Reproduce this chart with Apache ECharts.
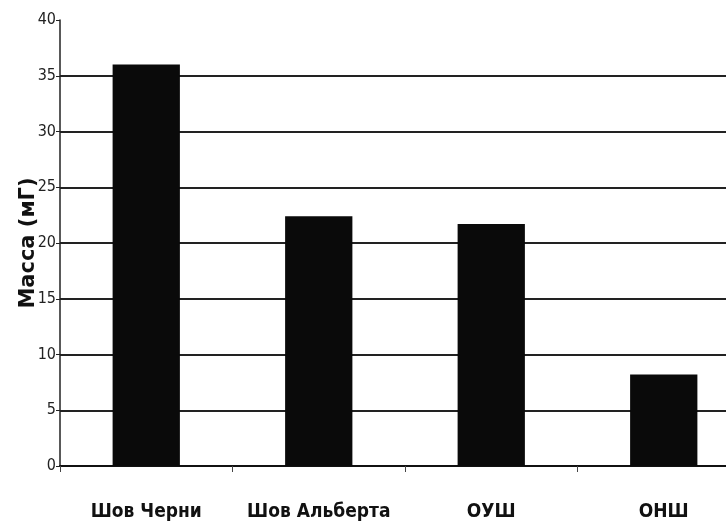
<!DOCTYPE html>
<html><head><meta charset="utf-8">
<script src="https://cdn.jsdelivr.net/npm/echarts@6/dist/echarts.min.js"></script>
<style>html,body{margin:0;padding:0;background:#fff}#c{width:726px;height:525px}</style>
</head><body><div id="c"></div>
<script>
var categories = ['Шов Черни', 'Шов Альберта', 'ОУШ', 'ОНШ'];
var values = [36, 22.4, 21.7, 8.2];
var yTicks = [0, 5, 10, 15, 20, 25, 30, 35, 40];
var yName = 'Масса (мГ)';

var chart = echarts.init(document.getElementById('c'), null, {renderer: 'canvas'});
chart.setOption({
  backgroundColor: '#fff',
  animation: false,
  grid: {left: 60, top: 20, width: 690, height: 446, containLabel: false, outerBoundsMode: 'none'},
  xAxis: {
    type: 'category',
    data: categories,
    axisLine: {show: true, lineStyle: {color: '#111', width: 2}},
    axisTick: {show: true, length: 6, lineStyle: {color: '#444', width: 1}},
    axisLabel: {color: '#111', fontSize: 19, fontWeight: 'bold', margin: 37, interval: 0, hideOverlap: false,
      fontFamily: '"DejaVu Sans Condensed", "Liberation Sans", Arial, sans-serif'},
    splitLine: {show: false}
  },
  yAxis: {
    type: 'value',
    min: yTicks[0], max: yTicks[yTicks.length - 1], interval: 5,
    name: yName,
    nameLocation: 'middle',
    nameGap: 21,
    nameMoveOverlap: false,
    nameRotate: 90,
    nameTextStyle: {color: '#111', fontSize: 21, fontWeight: 'bold',
      fontFamily: '"DejaVu Sans", "Liberation Sans", Arial, sans-serif'},
    axisLine: {show: true, lineStyle: {color: '#222', width: 1.5}},
    axisTick: {show: true, length: 4, lineStyle: {color: '#222'}},
    axisLabel: {color: '#222', fontSize: 16, margin: 4,
      fontFamily: '"DejaVu Sans Condensed", "Liberation Sans", Arial, sans-serif'},
    splitLine: {show: true, showMaxLine: false, showMinLine: false, lineStyle: {color: '#222', width: 2}}
  },
  series: [{
    type: 'bar',
    data: values,
    barWidth: '39%',
    itemStyle: {color: '#0a0a0a'}
  }]
});
</script></body></html>
